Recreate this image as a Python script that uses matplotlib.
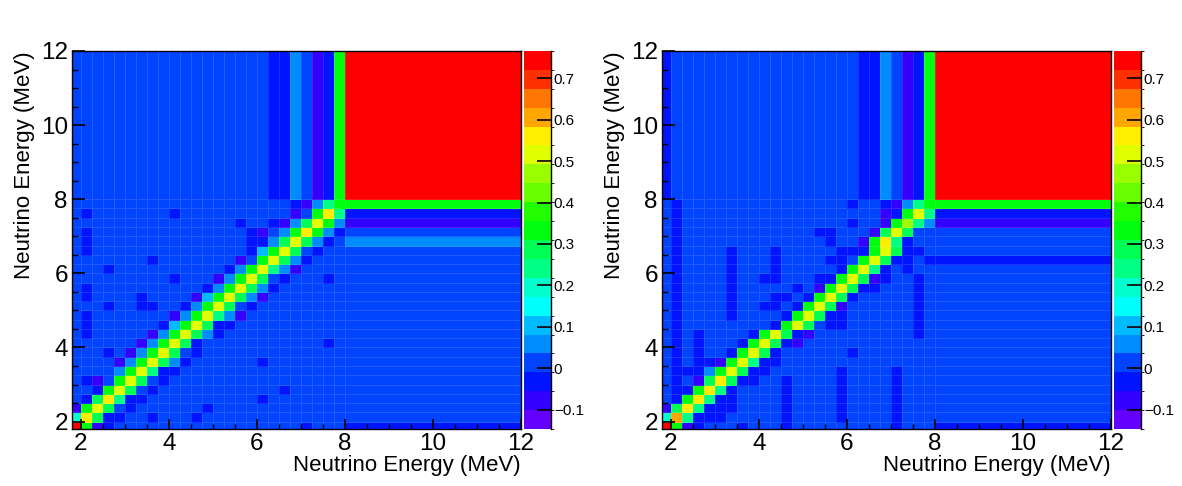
import colorsys
import numpy as np
import matplotlib
matplotlib.use("Agg")
import matplotlib.pyplot as plt
from matplotlib.colors import ListedColormap, BoundaryNorm

plt.rcParams['font.family'] = ['Liberation Sans', 'DejaVu Sans']

# bin edges (MeV), same on both axes
edges = [1.8, 2.0, 2.25, 2.5, 2.75, 3.0, 3.25, 3.5, 3.75, 4.0, 4.25, 4.5, 4.75,
         5.0, 5.25, 5.5, 5.75, 6.0, 6.25, 6.5, 6.75, 7.0, 7.25, 7.5, 7.75, 8.0, 12.0]

z_min, z_max = -0.147, 0.766
n_levels = 20
cbar_ticks = [-0.1, 0, 0.1, 0.2, 0.3, 0.4, 0.5, 0.6, 0.7]

# rows = y bins (bottom to top), columns = x bins (left to right)
left_matrix = [
    [.75,.33,-.08,-.03,.01,.01,.01,.01,.01,.01,.01,.01,.01,.01,.01,.01,.01,.01,.01,.01,.01,-.03,.01,.01,.01,-.03],
    [.20,.56,.29,-.03,-.03,.01,.01,-.03,.01,.01,.01,-.03,.01,.01,.01,.01,.01,.01,.01,.01,.01,.01,.01,.01,.01,.01],
    [-.08,.33,.51,.29,.01,-.03,.01,.01,.01,.01,.01,.01,-.03,.01,.01,.01,.01,.01,.01,.01,.01,.01,.01,.01,.01,.01],
    [.01,-.03,.29,.56,.24,-.03,-.03,.01,.01,.01,.01,.01,.01,.01,.01,.01,.01,-.03,.01,.01,.01,.01,.01,.01,.01,.01],
    [.01,.01,-.03,.33,.51,.29,.01,-.03,.01,.01,.01,.01,.01,.01,.01,.01,.01,.01,.01,-.03,.01,.01,.01,.01,.01,.01],
    [.01,-.03,-.08,.01,.33,.51,.29,.01,-.03,.01,.01,.01,.01,.01,.01,.01,.01,.01,.01,.01,.01,.01,.01,.01,.01,.01],
    [.01,.01,.01,.01,.06,.33,.51,.24,-.03,-.03,.01,.01,.01,.01,.01,.01,.01,.01,.01,.01,.01,.01,.01,.01,.01,.01],
    [.01,.01,.01,.01,-.08,.06,.33,.51,.29,.06,-.03,.01,.01,.01,.01,.01,.01,-.03,.01,.01,.01,.01,.01,.01,.01,.01],
    [.01,.01,.01,-.03,.01,-.08,.06,.33,.51,.29,.01,-.03,.01,.01,.01,.01,.01,.01,.01,.01,.01,.01,.01,.01,.01,.01],
    [.01,.01,.01,.01,.01,.01,-.08,.06,.33,.51,.29,-.03,.01,.01,.01,.01,.01,.01,.01,.01,.01,.01,.01,-.03,.01,.01],
    [.01,-.03,.01,.01,.01,.01,.01,-.08,.06,.33,.51,.29,.06,-.03,.01,.01,.01,.01,.01,.01,.01,.01,.01,.01,.01,.01],
    [.01,-.03,.01,.01,.01,.01,.01,.01,-.03,.10,.33,.51,.29,-.03,-.03,.01,.01,.01,.01,.01,.01,.01,.01,.01,.01,.01],
    [.01,-.03,.01,.01,.01,.01,.01,.01,.01,-.08,.06,.33,.51,.24,.06,-.08,.01,.01,.01,.01,.01,.01,.01,.01,.01,.01],
    [.01,.01,.01,-.03,.01,.01,-.03,-.03,.01,.01,-.03,.06,.33,.51,.29,.01,-.03,.01,.01,.01,.01,.01,.01,.01,.01,.01],
    [.01,-.03,.01,.01,.01,.01,-.03,.01,.01,.01,.01,-.08,.10,.33,.51,.29,.06,-.08,.01,.01,.01,.01,.01,.01,.01,.01],
    [.01,-.03,.01,.01,.01,.01,.01,.01,.01,.01,.01,.01,-.03,.06,.33,.51,.29,.06,-.03,.01,.01,.01,.01,.01,.01,.01],
    [.01,.01,.01,.01,.01,.01,.01,.01,.01,-.03,.01,.01,.01,-.08,.06,.33,.51,.29,.01,-.03,.01,.01,.01,-.03,.01,.01],
    [.01,.01,.01,-.03,.01,.01,.01,.01,.01,.01,.01,.01,.01,.01,-.03,.06,.33,.51,.24,.06,-.08,.01,.01,.01,.01,.01],
    [.01,.01,.01,.01,.01,.01,.01,-.03,.01,.01,.01,.01,.01,.01,.01,-.08,.01,.33,.51,.29,.06,-.03,.01,.01,.01,.01],
    [.01,-.03,.01,.01,.01,.01,.01,.01,.01,.01,.01,.01,.01,.01,.01,.01,-.03,.10,.33,.51,.29,.01,-.03,.01,.01,.01],
    [.01,-.03,.01,.01,.01,.01,.01,.01,.01,.01,.01,.01,.01,.01,.01,.01,-.03,-.03,.06,.29,.51,.29,.06,-.03,.01,.06],
    [.01,-.03,.01,.01,.01,.01,.01,.01,.01,.01,.01,.01,.01,.01,.01,.01,-.03,-.08,.01,.06,.33,.56,.33,.06,-.03,.01],
    [.01,.01,.01,.01,.01,.01,.01,.01,.01,.01,.01,.01,.01,.01,.01,-.03,.01,.01,-.03,-.08,.06,.29,.51,.33,.06,-.08],
    [.01,-.03,.01,.01,.01,.01,.01,.01,.01,-.03,.01,.01,.01,.01,.01,.01,.01,.01,.01,.01,-.08,.01,.33,.56,.24,-.03],
    [.01,.01,.01,.01,.01,.01,.01,.01,.01,.01,.01,.01,.01,.01,.01,.01,.01,.01,.01,.01,-.03,-.08,.06,.24,.33,.33],
    [.01,.01,.01,.01,.01,.01,.01,.01,.01,.01,.01,.01,.01,.01,.01,.01,.01,.01,-.03,-.03,.06,.01,-.08,-.03,.33,.75],
]

right_matrix = [
    [.75,.33,-.08,-.03,.01,.01,.01,-.03,.01,.01,.01,-.03,.01,.01,.01,.01,.01,.01,.01,.01,.01,-.03,.01,.01,.01,-.03],
    [.20,.61,.24,-.03,-.03,-.03,.01,.01,.01,.01,.01,-.03,.01,.01,.01,.01,-.03,.01,.01,.01,.01,-.03,.01,.01,.01,.01],
    [-.08,.29,.56,.24,-.03,-.03,-.03,.01,.01,.01,.01,-.03,.01,.01,.01,.01,-.03,.01,.01,.01,.01,-.03,.01,.01,.01,.01],
    [.01,-.03,.33,.56,.24,-.03,-.03,.01,.01,.01,.01,-.03,.01,.01,.01,.01,-.03,.01,.01,.01,.01,-.03,.01,.01,.01,.01],
    [.01,-.03,-.03,.33,.56,.24,-.03,.01,.01,.01,.01,-.03,.01,.01,.01,.01,-.03,.01,.01,.01,.01,-.03,.01,.01,.01,.01],
    [.01,-.03,.01,-.08,.29,.56,.29,-.03,-.03,.01,.01,-.03,.01,.01,.01,.01,-.03,.01,.01,.01,.01,-.03,.01,.01,.01,.01],
    [.01,-.03,-.03,-.03,.06,.33,.51,.29,-.03,-.03,.01,.01,.01,.01,.01,.01,-.03,.01,.01,.01,.01,-.03,.01,.01,.01,.01],
    [.01,-.03,.01,-.03,-.03,-.08,.33,.51,.24,-.03,-.03,.01,.01,.01,.01,.01,.01,.01,.01,.01,.01,.01,.01,.01,.01,.01],
    [.01,-.03,.01,-.03,.01,.01,-.03,.33,.51,.29,-.03,.01,.01,.01,.01,.01,.01,-.03,.01,.01,.01,.01,.01,.01,.01,.01],
    [.01,-.03,.01,-.03,.01,.01,.01,-.03,.33,.51,.29,-.03,-.08,.01,.01,.01,.01,.01,.01,.01,.01,.01,.01,.01,.01,.01],
    [.01,-.03,.01,-.03,.01,.01,.01,.01,-.03,.33,.51,.29,-.03,-.08,.01,.01,.01,.01,.01,.01,.01,.01,.01,-.03,.01,.01],
    [.01,-.03,.01,.01,.01,.01,.01,.01,.01,.01,-.03,.33,.51,.29,.01,-.03,-.03,.01,.01,.01,.01,.01,.01,-.03,.01,.01],
    [.01,-.03,.01,.01,.01,.01,-.03,.01,.01,.01,.01,-.03,.33,.51,.29,-.03,-.03,.01,.01,.01,.01,.01,.01,-.03,.01,.01],
    [.01,-.03,.01,.01,.01,.01,-.03,.01,.01,-.03,-.03,.01,-.03,.33,.51,.29,-.08,.01,.01,.01,.01,.01,.01,-.03,.01,.01],
    [.01,-.03,.01,.01,.01,.01,-.03,.01,.01,.01,-.03,-.03,.01,-.03,.33,.51,.29,-.03,.01,.01,.01,.01,.01,-.03,.01,.01],
    [.01,-.03,.01,.01,.01,.01,-.03,.01,.01,.01,.01,.01,-.03,.01,-.08,.33,.51,.29,-.03,-.03,.01,.01,.01,-.03,.01,.01],
    [.01,-.03,.01,.01,.01,.01,-.03,.01,.01,-.03,-.03,.01,.01,.01,-.03,-.03,.33,.51,.29,-.08,-.03,.01,.01,-.03,.01,.01],
    [.01,-.03,.01,.01,.01,.01,-.03,.01,.01,.01,-.03,.01,.01,.01,.01,.01,-.03,.33,.51,.24,-.03,.01,-.03,.01,.01,.01],
    [.01,-.03,.01,.01,.01,.01,-.03,.01,.01,.01,-.03,.01,.01,.01,.01,-.03,-.03,.01,.33,.51,.29,-.03,-.03,.01,-.03,-.03],
    [.01,-.03,.01,.01,.01,.01,-.03,.01,.01,.01,-.03,.01,.01,.01,.01,.01,-.03,-.03,-.03,.33,.51,.29,-.03,-.03,.01,.01],
    [.01,-.03,.01,.01,.01,.01,.01,.01,.01,.01,.01,.01,.01,.01,.01,-.03,.01,.01,-.08,.33,.56,.24,-.03,.01,.01,.01],
    [.01,-.03,.01,.01,.01,.01,.01,.01,.01,.01,.01,.01,.01,.01,-.03,-.03,.01,.01,.01,-.08,.29,.51,.29,.01,.01,.01],
    [.01,-.03,.01,.01,.01,.01,.01,.01,.01,.01,.01,.01,.01,.01,.01,.01,.01,-.03,.01,.01,-.08,.33,.47,.24,.06,-.08],
    [.01,-.03,.01,.01,.01,.01,.01,.01,.01,.01,.01,.01,.01,.01,.01,.01,.01,.01,.01,.01,-.08,-.03,.33,.51,.24,-.03],
    [.01,-.03,.01,.01,.01,.01,.01,.01,.01,.01,.01,.01,.01,.01,.01,.01,.01,-.03,.01,.01,-.03,-.08,.06,.24,.33,.33],
    [-.03,.01,.01,.01,.01,.01,.01,.01,.01,.01,.01,.01,.01,.01,.01,.01,.01,.01,-.03,-.03,.06,.01,-.08,-.03,.33,.75],
]

for m in (left_matrix, right_matrix):
    assert len(m) == 26 and all(len(r) == 26 for r in m)

# ROOT "pretty" palette (violet -> red, 50 colours), sampled for 20 contours
palette = [colorsys.hls_to_rgb((280 - (i + 1) * 5.6) / 360.0, 0.5, 1.0) for i in range(50)]
colors = [palette[int((k + 0.99) * 50 / n_levels)] for k in range(n_levels)]
cmap = ListedColormap(colors)
cmap.set_over(colors[-1])
cmap.set_under(colors[0])
levels = np.linspace(z_min, z_max, n_levels + 1)
norm = BoundaryNorm(levels, n_levels)

W, H = 1182, 486
fig = plt.figure(figsize=(W / 100, H / 100), dpi=100)


def draw_panel(x0, matrix):
    ax = fig.add_axes([x0 / W, (H - 429) / H, 449 / W, 378 / H])
    cax = fig.add_axes([(x0 + 452) / W, (H - 429) / H, 27 / W, 378 / H])

    mesh = ax.pcolormesh(edges, edges, np.array(matrix), cmap=cmap, norm=norm,
                         edgecolors=(1, 1, 1, 0.12), linewidth=0.5)
    ax.set_xlim(1.8, 12)
    ax.set_ylim(1.8, 12)

    ax.set_xticks([2, 4, 6, 8, 10, 12])
    ax.set_yticks([2, 4, 6, 8, 10, 12])
    ax.set_xticks(np.arange(2, 12.01, 0.5), minor=True)
    ax.set_yticks(np.arange(2, 12.01, 0.5), minor=True)
    ax.tick_params(axis='x', which='major', direction='in', length=7, width=1.2,
                   labelsize=17.5, pad=3)
    ax.tick_params(axis='x', which='minor', direction='in', length=3.5, width=1)
    ax.tick_params(axis='y', which='major', direction='in', length=9.5, width=1.2,
                   labelsize=17.5, pad=3)
    ax.tick_params(axis='y', which='minor', direction='in', length=4.5, width=1)
    for s in ax.spines.values():
        s.set_linewidth(1.0)

    ax.set_xlabel("Neutrino Energy (MeV)", fontsize=16, loc='right')
    ax.xaxis.set_label_coords(1.0, -0.07)
    ax.set_ylabel("Neutrino Energy (MeV)", fontsize=16, loc='top')
    ax.yaxis.set_label_coords(-0.082, 1.0)

    cb = fig.colorbar(mesh, cax=cax, ticks=cbar_ticks)
    cb.outline.set_visible(False)
    cax.tick_params(direction='in', length=10, width=1.2, labelsize=11, pad=2)
    cax.set_yticklabels(["\u22120.1", "0", "0.1", "0.2", "0.3", "0.4", "0.5", "0.6", "0.7"])
    cax.plot([1, 1], [0, 1], transform=cax.transAxes, color='black', lw=1, clip_on=False)


draw_panel(72, left_matrix)
draw_panel(662, right_matrix)

fig.savefig("out.png", dpi=100)
